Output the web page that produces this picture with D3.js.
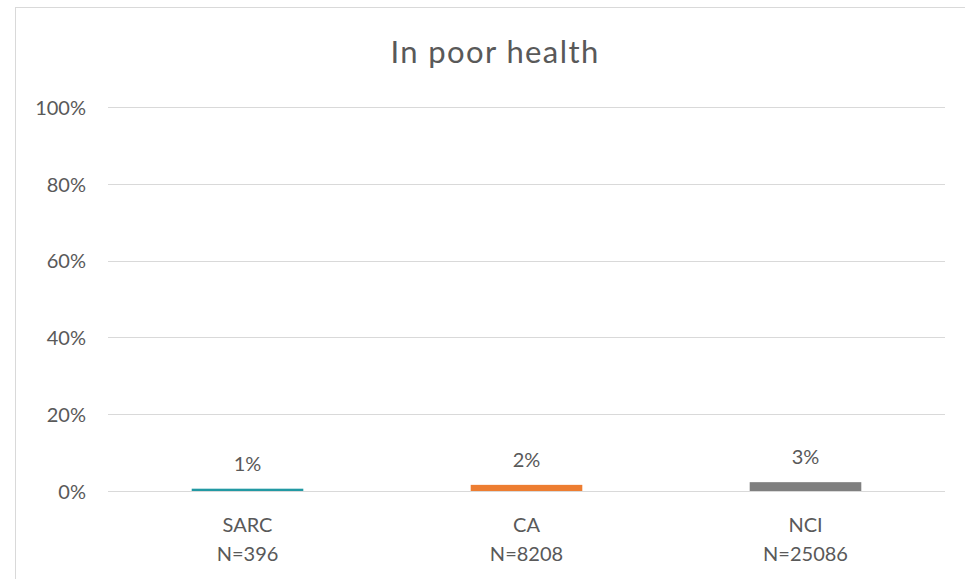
<!DOCTYPE html>
<html><head><meta charset="utf-8">
<script src="https://cdn.jsdelivr.net/npm/d3@7"></script>
<style>body{margin:0;background:#fff}svg{display:block}text{font-family:Lato,"Open Sans",sans-serif;fill:#595959}</style>
</head><body>
<svg id="c" width="965" height="579"></svg>
<script>
const categories = ["SARC", "CA", "NCI"];
const sampleSizes = ["N=396", "N=8208", "N=25086"];
const values = [0.006, 0.016, 0.023];
const valueLabels = ["1%", "2%", "3%"];
const yTicks = [0, 0.2, 0.4, 0.6, 0.8, 1.0];
const colors = ["#2299A3", "#ED7D31", "#7F7F7F"];
const title = "In poor health";

const svg = d3.select("#c");
svg.append("rect").attr("x",15.5).attr("y",7.5).attr("width",980).attr("height",600)
  .attr("fill","#fff").attr("stroke","#d9d9d9").attr("stroke-width",1);

const x = d3.scaleBand().domain(categories).range([108,945]).paddingInner(0.6).paddingOuter(0.3);
const y = d3.scaleLinear().domain([0,1]).range([491,107]);

svg.append("text").attr("x",495).attr("y",63).attr("text-anchor","middle")
  .attr("font-size",31).style("letter-spacing","1.4px").text(title);

const grid = svg.append("g");
grid.selectAll("line").data(yTicks).join("line")
  .attr("x1",108).attr("x2",945)
  .attr("y1",d=>Math.round(y(d))+0.5).attr("y2",d=>Math.round(y(d))+0.5)
  .attr("stroke","#d9d9d9").attr("stroke-width",1);

const yAxis = d3.axisLeft(y).tickValues(yTicks).tickFormat(d3.format(".0%")).tickSize(0).tickPadding(10);
const ga = svg.append("g").attr("transform","translate(96,0)").call(yAxis);
ga.select(".domain").remove();
ga.selectAll("text").attr("font-size",20).attr("fill","#595959").attr("dy","0.36em")
  .style("font-family","Lato,'Open Sans',sans-serif");

svg.append("g").selectAll("rect").data(values).join("rect")
  .attr("x",(d,i)=>x(categories[i])).attr("width",x.bandwidth())
  .attr("y",d=>y(d)).attr("height",d=>y(0)-y(d))
  .attr("fill",(d,i)=>colors[i]);

svg.append("g").selectAll("text").data(values).join("text")
  .attr("x",(d,i)=>x(categories[i])+x.bandwidth()/2).attr("y",d=>y(d)-18)
  .attr("text-anchor","middle").attr("font-size",20).text((d,i)=>valueLabels[i]);

const xl = svg.append("g").selectAll("text").data(categories).join("text")
  .attr("x",d=>x(d)+x.bandwidth()/2).attr("y",532).attr("text-anchor","middle").attr("font-size",20);
xl.append("tspan").attr("x",d=>x(d)+x.bandwidth()/2).text(d=>d);
xl.append("tspan").attr("x",d=>x(d)+x.bandwidth()/2).attr("dy",28.5).text((d,i)=>sampleSizes[i]);
</script>
</body></html>
